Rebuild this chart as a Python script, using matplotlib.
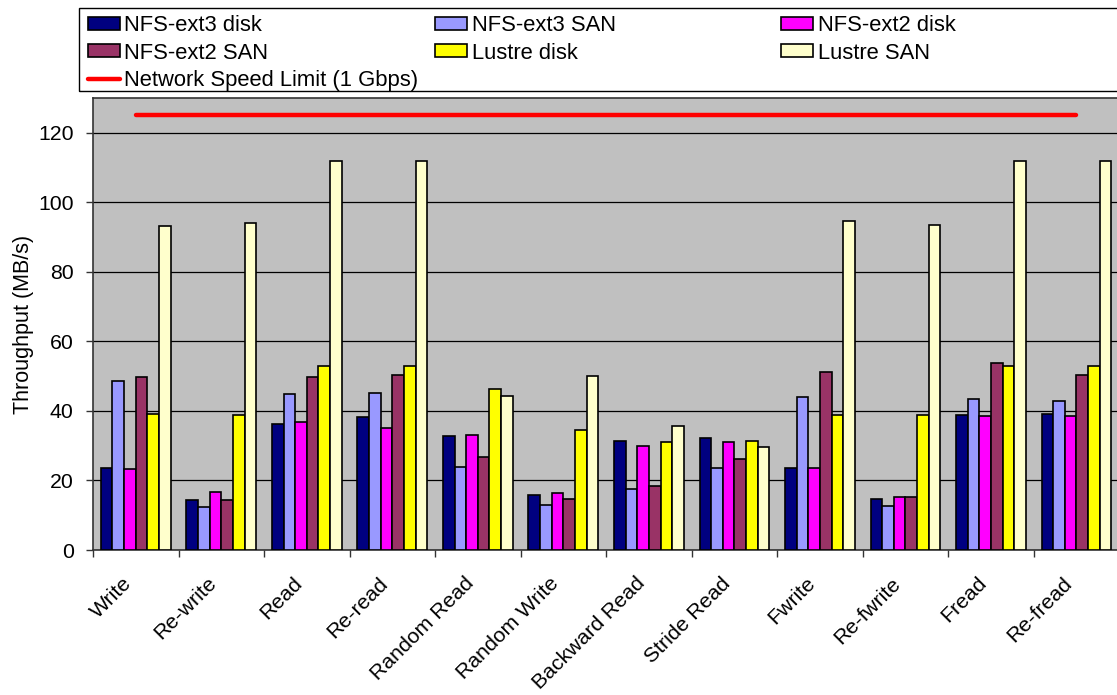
import numpy as np
import matplotlib
matplotlib.use('Agg')
import matplotlib.pyplot as plt
import matplotlib.transforms as mtransforms
from matplotlib.patches import Rectangle

plt.rcParams['font.family'] = ['Liberation Sans', 'DejaVu Sans']

tests = ['Write', 'Re-write', 'Read', 'Re-read', 'Random Read', 'Random Write',
         'Backward Read', 'Stride Read', 'Fwrite', 'Re-fwrite', 'Fread', 'Re-fread']

nfs_ext3_disk = [23.6, 14.3, 36.2, 38.2, 32.7, 15.8, 31.4, 32.1, 23.6, 14.6, 38.9, 39.1]
nfs_ext3_san = [48.7, 12.5, 44.9, 45.2, 23.8, 12.8, 17.6, 23.6, 44.0, 12.7, 43.3, 42.9]
nfs_ext2_disk = [23.2, 16.7, 36.9, 35.0, 33.2, 16.3, 29.9, 31.1, 23.5, 15.1, 38.6, 38.6]
nfs_ext2_san = [49.9, 14.3, 49.9, 50.2, 26.8, 14.6, 18.3, 26.1, 51.2, 15.3, 53.7, 50.3]
lustre_disk = [39.0, 38.8, 52.9, 52.9, 46.2, 34.6, 31.2, 31.4, 38.9, 38.8, 52.8, 52.9]
lustre_san = [93.2, 94.0, 111.9, 111.9, 44.3, 50.0, 35.6, 29.6, 94.6, 93.5, 111.9, 111.9]

network_limit = 125

series = [
    ('NFS-ext3 disk', nfs_ext3_disk, '#000080'),
    ('NFS-ext3 SAN', nfs_ext3_san, '#9999FF'),
    ('NFS-ext2 disk', nfs_ext2_disk, '#FF00FF'),
    ('NFS-ext2 SAN', nfs_ext2_san, '#993366'),
    ('Lustre disk', lustre_disk, '#FFFF00'),
    ('Lustre SAN', lustre_san, '#FFFFCC'),
]

W, H = 1117, 695
fig = plt.figure(figsize=(W / 100, H / 100), dpi=100)
ax = fig.add_axes([93 / W, 1 - 550 / H, 1 - 93 / W + 0.002, (550 - 98) / H])
ax.set_facecolor('#C0C0C0')

x = np.arange(len(tests))
w = 0.136
bars = {}
for i, (name, vals, col) in enumerate(series):
    bars[name] = ax.bar(x + (i - 2.5) * w, vals, w, color=col, edgecolor='black',
                        linewidth=1.2, zorder=3, label=name)

line, = ax.plot([x[0], x[-1]], [network_limit, network_limit], color='#FF0000',
                linewidth=3.2, solid_capstyle='round', zorder=4,
                label='Network Speed Limit (1 Gbps)')

ax.set_xlim(-0.5, len(tests) - 0.5)
ax.set_ylim(0, 130)
ax.set_yticks(np.arange(0, 121, 20))
ax.yaxis.grid(True, color='black', linewidth=0.9, zorder=0)
ax.set_axisbelow(True)

ax.set_xticks(x)
ax.set_xticklabels(tests, rotation=45, ha='right', rotation_mode='anchor', fontsize=15.3)
ax.tick_params(axis='x', which='major', length=0, pad=17)
# nudge the rotated labels a bit to the left, like the original
shift = mtransforms.ScaledTranslation(-14 / 100, 0, fig.dpi_scale_trans)
for lab in ax.get_xticklabels():
    lab.set_transform(lab.get_transform() + shift)
ax.set_xticks(np.arange(-0.5, len(tests), 1), minor=True)
ax.tick_params(axis='x', which='minor', length=5, width=1, color='#333333', direction='out')
ax.tick_params(axis='y', labelsize=15.3, length=5, width=1, color='#333333', pad=9)

for s in ['left', 'bottom', 'top', 'right']:
    ax.spines[s].set_color('#333333')
    ax.spines[s].set_linewidth(1.2)

ax.set_ylabel('Throughput (MB/s)', fontsize=15.5)
ax.yaxis.set_label_coords((34 - 93) / 1024, 0.5)

# legend box with three fixed-position columns
fig.patches.append(Rectangle((79 / W, 1 - 91 / H), (W + 5 - 79) / W, 83 / H,
                             transform=fig.transFigure, fill=False,
                             edgecolor='black', linewidth=1.0))
fs = 15.8
fs_px = fs * 100 / 72
columns = [
    (87.5, [bars['NFS-ext3 disk'], bars['NFS-ext2 SAN'], line]),
    (435, [bars['NFS-ext3 SAN'], bars['Lustre disk']]),
    (781, [bars['NFS-ext2 disk'], bars['Lustre SAN']]),
]
for xpx, hs in columns:
    fig.legend(hs, [h.get_label() for h in hs], loc='upper left',
               bbox_to_anchor=(xpx / W, 1 - 15 / H), fontsize=fs, frameon=False,
               borderpad=0, borderaxespad=0, handlelength=32 / fs_px,
               handleheight=12 / fs_px, handletextpad=5 / fs_px, labelspacing=0.3)

fig.savefig('out.png', dpi=100, facecolor='white')
